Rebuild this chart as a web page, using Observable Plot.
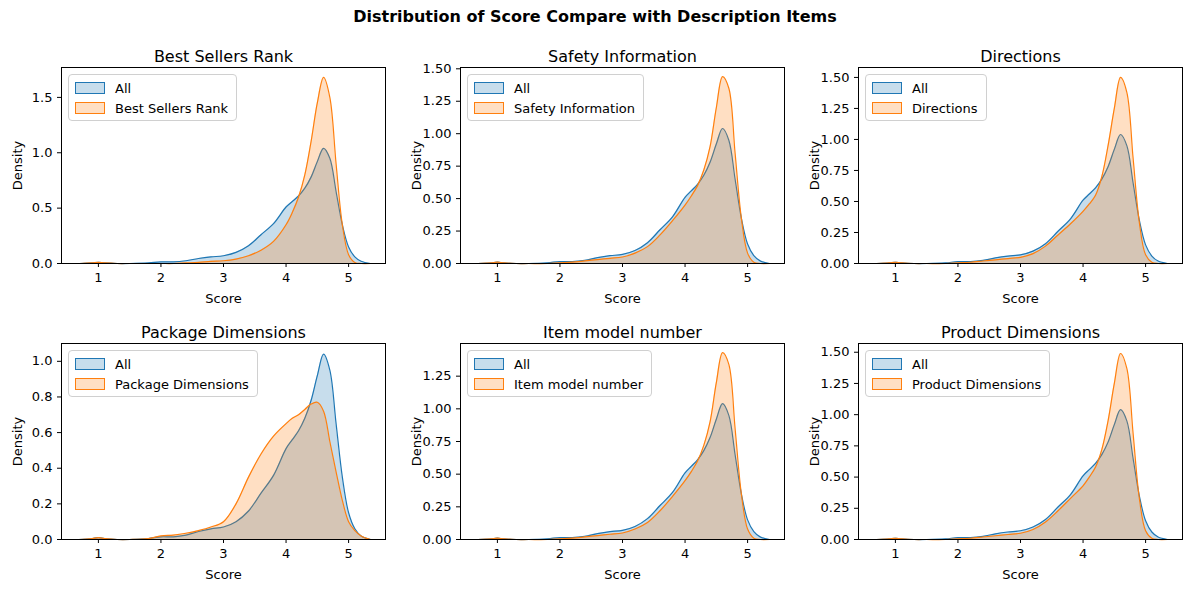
<!DOCTYPE html>
<html><head><meta charset="utf-8">
<script src="https://cdn.jsdelivr.net/npm/d3@7"></script>
<script src="https://cdn.jsdelivr.net/npm/@observablehq/plot@0.6"></script>
<style>
body{margin:0;background:#fff;font-family:"DejaVu Sans",sans-serif;}
#wrap{position:relative;width:1190px;height:592px;}
#title{position:absolute;top:7px;left:0;width:1190px;text-align:center;font-weight:bold;font-size:16px;}
.pan{position:absolute;}
.leg{position:absolute;border:1px solid #d0d0d0;border-radius:4px;background:rgba(255,255,255,0.8);padding:3px 8px 2px 6px;font-size:13px;}
.leg div{display:flex;align-items:center;height:20px;}
.leg span.p{display:inline-block;width:28px;height:10px;margin-right:10px;}
</style></head><body>
<div id="wrap"><div id="title">Distribution of Score Compare with Description Items</div></div>
<script>
const xs = [0.7,0.9,1.0,1.1,1.3,1.5,1.8,2.0,2.2,2.4,2.6,2.8,3.0,3.2,3.4,3.6,3.8,4.0,4.1,4.2,4.3,4.4,4.5,4.6,4.7,4.8,4.9,5.0,5.1,5.2,5.35];
const allScore = [0,0.005,0.01,0.005,0,0,0.005,0.015,0.015,0.025,0.045,0.06,0.07,0.1,0.16,0.26,0.36,0.51,0.56,0.61,0.68,0.78,0.92,1.04,0.95,0.65,0.35,0.15,0.06,0.02,0];
const bestSellers = [0,0.005,0.01,0.005,0,0,0,0,0,0.005,0.01,0.02,0.025,0.04,0.07,0.12,0.2,0.35,0.46,0.6,0.8,1.1,1.45,1.68,1.5,0.9,0.35,0.08,0.01,0,0];
const safety = [0,0.005,0.01,0.005,0,0,0,0.005,0.01,0.02,0.03,0.04,0.05,0.08,0.13,0.22,0.33,0.45,0.52,0.6,0.72,0.9,1.2,1.44,1.35,0.85,0.35,0.08,0.01,0,0];
const directions = [0,0.005,0.01,0.005,0,0,0,0.005,0.01,0.02,0.03,0.04,0.05,0.08,0.14,0.23,0.32,0.42,0.48,0.55,0.7,0.95,1.25,1.5,1.38,0.85,0.33,0.07,0.01,0,0];
const packageDim = [0,0.005,0.01,0.005,0,0,0.005,0.02,0.025,0.035,0.05,0.07,0.1,0.2,0.35,0.48,0.58,0.65,0.68,0.7,0.73,0.76,0.77,0.72,0.55,0.38,0.22,0.1,0.05,0.02,0];
const itemModel = [0,0.005,0.01,0.005,0,0,0,0.005,0.01,0.02,0.03,0.04,0.05,0.08,0.13,0.22,0.33,0.45,0.52,0.6,0.72,0.9,1.2,1.43,1.34,0.85,0.35,0.08,0.01,0,0];
const productDim = [0,0.005,0.01,0.005,0,0,0,0.005,0.01,0.02,0.03,0.04,0.05,0.08,0.14,0.23,0.33,0.43,0.5,0.58,0.72,0.95,1.25,1.49,1.37,0.85,0.33,0.07,0.01,0,0];

const names = ["Best Sellers Rank","Safety Information","Directions","Package Dimensions","Item model number","Product Dimensions"];
const series = [bestSellers, safety, directions, packageDim, itemModel, productDim];
const yMax = [1.77,1.51,1.58,1.1,1.5,1.57];
const yTicks = [[0,0.5,1,1.5],[0,0.25,0.5,0.75,1,1.25,1.5],[0,0.25,0.5,0.75,1,1.25,1.5],[0,0.2,0.4,0.6,0.8,1.0],[0,0.25,0.5,0.75,1,1.25],[0,0.25,0.5,0.75,1,1.25,1.5]];
const yFmt = [".1f",".2f",".2f",".1f",".2f",".2f"];
const colLeft = [61,460,858], rowTop = [67,343];
const blue = "#1f77b4", orange = "#ff7f0e";

const wrap = document.getElementById("wrap");
names.forEach((name, i) => {
  const ax = colLeft[i % 3], ay = rowTop[Math.floor(i / 3)];
  const mL = 60, mT = 30;
  const rows = xs.map((x, j) => ({x, all: allScore[j], v: series[i][j]}));
  const chart = Plot.plot({
    width: mL + 324 + 4, height: mT + 196 + 46,
    marginLeft: mL, marginRight: 4, marginTop: mT, marginBottom: 46,
    style: {fontFamily: "DejaVu Sans", fontSize: "12px", color: "#000", overflow: "visible"},
    x: {domain: [0.41, 5.59], ticks: [1,2,3,4,5], tickFormat: "d", label: null},
    y: {domain: [0, yMax[i]], ticks: yTicks[i], tickFormat: d3.format(yFmt[i]), label: null},
    marks: [
      Plot.areaY(rows, {x: "x", y: "all", fill: blue, fillOpacity: 0.25, curve: "catmull-rom"}),
      Plot.lineY(rows, {x: "x", y: "all", stroke: blue, strokeWidth: 1.2, curve: "catmull-rom"}),
      Plot.areaY(rows, {x: "x", y: "v", fill: orange, fillOpacity: 0.25, curve: "catmull-rom"}),
      Plot.lineY(rows, {x: "x", y: "v", stroke: orange, strokeWidth: 1.2, curve: "catmull-rom"}),
      Plot.axisX({ticks: [1,2,3,4,5], tickFormat: "d", tickSize: 4, fontSize: 13, label: "Score", labelAnchor: "center", labelArrow: "none", labelOffset: 39}),
      Plot.axisY({ticks: yTicks[i], tickFormat: d3.format(yFmt[i]), tickSize: 4, fontSize: 13, label: "Density", labelAnchor: "center", labelArrow: "none", labelOffset: 49}),
      Plot.frame({stroke: "#000"}),
      Plot.text([name], {frameAnchor: "top", lineAnchor: "bottom", dy: -6, fontSize: 16, text: d => d})
    ]
  });
  const d = document.createElement("div");
  d.className = "pan";
  d.style.left = (ax - mL) + "px";
  d.style.top = (ay - mT) + "px";
  d.appendChild(chart);
  wrap.appendChild(d);
  const leg = document.createElement("div");
  leg.className = "leg";
  leg.style.left = (ax + 7) + "px";
  leg.style.top = (ay + 7) + "px";
  leg.innerHTML = `<div><span class="p" style="background:rgba(31,119,180,0.25);border:1px solid ${blue}"></span>All</div>` +
    `<div><span class="p" style="background:rgba(255,127,14,0.25);border:1px solid ${orange}"></span>${name}</div>`;
  wrap.appendChild(leg);
});
</script>
</body></html>
